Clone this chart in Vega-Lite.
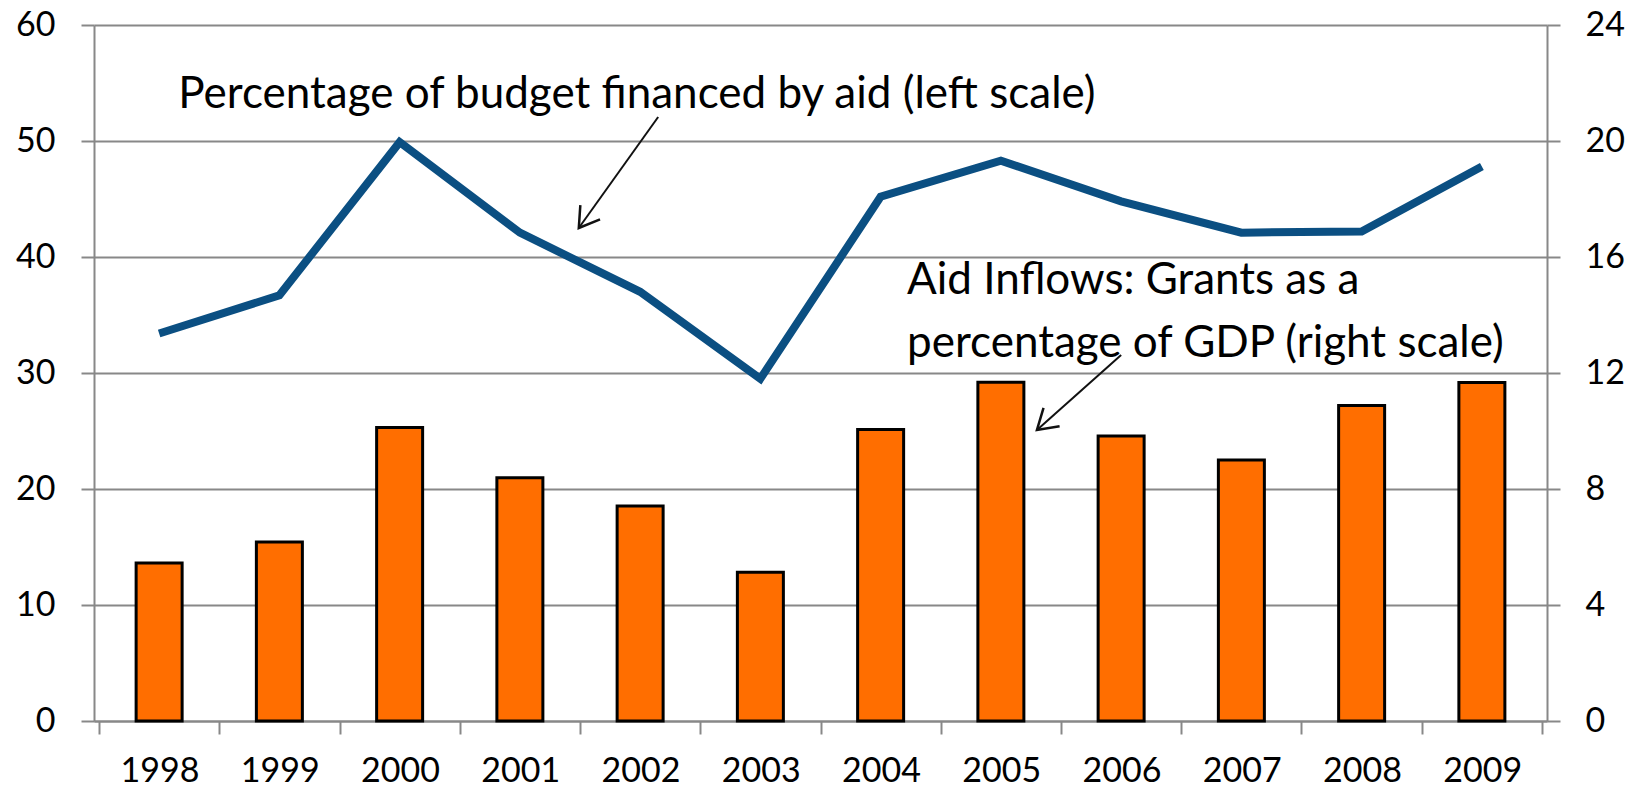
{
  "$schema": "https://vega.github.io/schema/vega-lite/v6.json",
  "width": 1453,
  "height": 696,
  "autosize": {"type": "none"},
  "padding": {"left": 94, "top": 25, "right": 96, "bottom": 70},
  "background": "white",
  "config": {"view": {"stroke": null}, "font": "Lato"},
  "datasets": {
    "aid": [
      {"year": 1998, "budget": 33.4, "grants": 5.45},
      {"year": 1999, "budget": 36.7, "grants": 6.17},
      {"year": 2000, "budget": 49.9, "grants": 10.12},
      {"year": 2001, "budget": 42.1, "grants": 8.39},
      {"year": 2002, "budget": 37.0, "grants": 7.41},
      {"year": 2003, "budget": 29.5, "grants": 5.13},
      {"year": 2004, "budget": 45.2, "grants": 10.05},
      {"year": 2005, "budget": 48.3, "grants": 11.68},
      {"year": 2006, "budget": 44.8, "grants": 9.83},
      {"year": 2007, "budget": 42.1, "grants": 9.0},
      {"year": 2008, "budget": 42.2, "grants": 10.88},
      {"year": 2009, "budget": 47.8, "grants": 11.67}
    ],
    "notes": [
      {"year": 1998.16, "value": 52.84, "label": "Percentage of budget financed by aid (left scale)"},
      {"year": 2004.22, "value": 36.81, "label": "Aid Inflows:  Grants as a"},
      {"year": 2004.22, "value": 31.38, "label": "percentage of GDP (right scale)"}
    ],
    "arrows": [
      {"year": 2002.15, "value": 52.07, "year2": 2001.49, "value2": 42.5},
      {"year": 2006.0, "value": 31.55, "year2": 2005.3, "value2": 25.09}
    ]
  },
  "encoding": {
    "x": {
      "field": "year",
      "type": "quantitative",
      "scale": {"domain": [1997.5, 2009.5], "nice": false, "zero": false},
      "axis": {
        "title": null,
        "grid": false,
        "values": [1997.5, 1998.5, 1999.5, 2000.5, 2001.5, 2002.5, 2003.5, 2004.5, 2005.5, 2006.5, 2007.5, 2008.5, 2009.5],
        "labelExpr": "datum.value < 2009 ? format(datum.value + 0.5, 'd') : ''",
        "labelOffset": 60.54,
        "labelFlush": false,
        "labelOverlap": false,
        "labelFontSize": 34,
        "labelColor": "#000000",
        "labelPadding": 20,
        "tickSize": 13,
        "tickWidth": 2,
        "tickColor": "#888888",
        "domainColor": "#888888",
        "domainWidth": 2
      }
    }
  },
  "layer": [
    {
      "data": {"name": "aid"},
      "mark": {"type": "bar", "orient": "vertical", "width": 46, "fill": "#ff6e00", "stroke": "#000000", "strokeWidth": 3},
      "encoding": {
        "y": {
          "field": "grants",
          "type": "quantitative",
          "scale": {"domain": [0, 24], "nice": false},
          "axis": {
            "orient": "right",
            "title": null,
            "grid": false,
            "values": [0, 4, 8, 12, 16, 20, 24],
            "labelFontSize": 34,
            "labelColor": "#000000",
            "labelPadding": 25,
            "tickSize": 13,
            "tickWidth": 2,
            "tickColor": "#888888",
            "domainColor": "#888888",
            "domainWidth": 2
          }
        }
      }
    },
    {
      "layer": [
        {
          "data": {"name": "aid"},
          "mark": {"type": "line", "color": "#0b4f82", "strokeWidth": 8, "strokeJoin": "miter"},
          "encoding": {
            "y": {
              "field": "budget",
              "type": "quantitative",
              "scale": {"domain": [0, 60], "nice": false},
              "axis": {
                "orient": "left",
                "title": null,
                "grid": true,
                "gridColor": "#888888",
                "gridWidth": 2,
                "gridOpacity": 1,
                "values": [0, 10, 20, 30, 40, 50, 60],
                "labelFontSize": 34,
                "labelColor": "#000000",
                "labelPadding": 26,
                "tickSize": 13,
                "tickWidth": 2,
                "tickColor": "#888888",
                "domainColor": "#888888",
                "domainWidth": 2
              }
            }
          }
        },
        {
          "data": {"name": "notes"},
          "mark": {"type": "text", "align": "left", "baseline": "alphabetic", "fontSize": 44, "font": "Lato", "color": "#000000"},
          "encoding": {
            "y": {"field": "value", "type": "quantitative"},
            "text": {"field": "label"}
          }
        },
        {
          "data": {"name": "arrows"},
          "mark": {"type": "rule", "color": "#111111", "strokeWidth": 2},
          "encoding": {
            "y": {"field": "value", "type": "quantitative"},
            "x2": {"field": "year2"},
            "y2": {"field": "value2"}
          }
        },
        {
          "data": {"name": "arrows"},
          "transform": [{"filter": "datum.year < 2004"}],
          "mark": {"type": "point", "shape": "M-0.53,0.85L0,0L0.53,0.85", "filled": false, "stroke": "#111111", "strokeWidth": 2.5, "opacity": 1, "size": 2100, "angle": 215.8},
          "encoding": {
            "x": {"field": "year2", "type": "quantitative"},
            "y": {"field": "value2", "type": "quantitative"}
          }
        },
        {
          "data": {"name": "arrows"},
          "transform": [{"filter": "datum.year > 2004"}],
          "mark": {"type": "point", "shape": "M-0.53,0.85L0,0L0.53,0.85", "filled": false, "stroke": "#111111", "strokeWidth": 2.5, "opacity": 1, "size": 2100, "angle": 228.6},
          "encoding": {
            "x": {"field": "year2", "type": "quantitative"},
            "y": {"field": "value2", "type": "quantitative"}
          }
        }
      ]
    }
  ],
  "resolve": {"scale": {"y": "independent"}}
}
